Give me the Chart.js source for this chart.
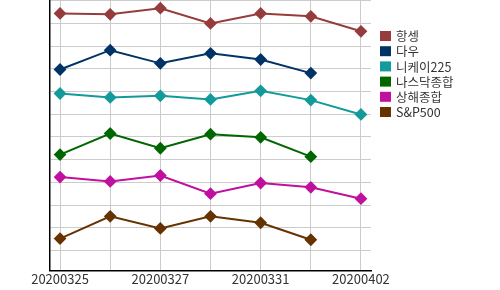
<!DOCTYPE html>
<html>
<head>
<meta charset="utf-8">
<script src="https://cdn.jsdelivr.net/npm/chart.js@4/dist/chart.umd.min.js"></script>
<style>
  html, body { margin: 0; padding: 0; background: #fff; }
  #wrap { width: 500px; height: 290px; }
</style>
</head>
<body>
<div id="wrap"><canvas id="c"></canvas></div>
<script>
// 날짜 (x축 카테고리)
const DATES = ['20200325', '20200326', '20200327', '20200330', '20200331', '20200401', '20200402'];

// 지수 이름 / 색
const NAMES = ['항셍', '다우', '니케이225', '나스닥종합', '상해종합', 'S&P500'];
const COLORS = ['#963c3c', '#003366', '#139a9a', '#006600', '#c0109f', '#663300'];

// 값 (그림에서 읽은 상대값)
const HANGSENG = [104.4, 104.0, 106.7, 100.0, 104.4, 103.1, 96.5];
const DOW      = [79.7, 88.2, 82.4, 86.8, 84.1, 78.1, null];
const NIKKEI   = [69.1, 67.4, 68.1, 66.5, 70.3, 66.2, 59.9];
const NASDAQ   = [42.2, 51.5, 45.0, 51.2, 49.8, 41.3, null];
const SHANGHAI = [32.3, 30.4, 33.0, 25.0, 29.7, 27.8, 22.8];
const SP500    = [5.2, 15.0, 9.7, 15.0, 12.2, 4.7, null];

const SERIES = [HANGSENG, DOW, NIKKEI, NASDAQ, SHANGHAI, SP500];

const FONT = '"Noto Sans CJK KR", "Noto Sans", sans-serif';

// 오른쪽 범례 직접 그리기
const sideLegend = {
  id: 'sideLegend',
  afterDraw(chart) {
    const ctx = chart.ctx;
    ctx.save();
    ctx.font = '12.5px ' + FONT;
    ctx.textBaseline = 'middle';
    NAMES.forEach((n, i) => {
      const y = 36 + i * 15.2;
      ctx.fillStyle = COLORS[i];
      ctx.fillRect(380, y - 5, 11, 10);
      ctx.fillStyle = '#333';
      ctx.fillText(n, 396, y + 0.5);
    });
    ctx.restore();
  }
};

new Chart(document.getElementById('c'), {
  type: 'line',
  data: {
    datasets: SERIES.map((s, i) => ({
      label: NAMES[i],
      data: s.map((v, j) => ({ x: j, y: v })).filter(p => p.y !== null),
      borderColor: COLORS[i],
      backgroundColor: COLORS[i],
      borderWidth: 2,
      pointStyle: 'rectRot',
      pointRadius: 5,
      pointHoverRadius: 5,
      tension: 0
    }))
  },
  options: {
    responsive: true,
    maintainAspectRatio: false,
    animation: false,
    layout: { autoPadding: false, padding: { top: 0, right: 129, bottom: 2, left: 50 } },
    plugins: {
      legend: { display: false },
      tooltip: { enabled: false }
    },
    scales: {
      x: {
        type: 'linear',
        min: -0.2,
        max: 6.2,
        afterBuildTicks: axis => {
          axis.ticks = DATES.map((d, i) => ({ value: i }));
        },
        ticks: {
          autoSkip: false,
          maxRotation: 0,
          color: '#333',
          font: { family: FONT, size: 13 },
          padding: 1,
          callback: (v) => (v % 2 === 0 ? DATES[v] : '')
        },
        grid: { color: '#cccccc', drawTicks: false },
        border: { color: '#000', width: 1.5 }
      },
      y: {
        min: -8.8,
        max: 110.3,
        afterBuildTicks: axis => {
          const t = [];
          for (let v = 0; v <= 110; v += 10) t.push({ value: v });
          axis.ticks = t;
        },
        ticks: { display: false },
        grid: { color: '#cccccc', drawTicks: false },
        border: { color: '#000', width: 1.5 }
      }
    }
  },
  plugins: [sideLegend]
});
</script>
</body>
</html>
